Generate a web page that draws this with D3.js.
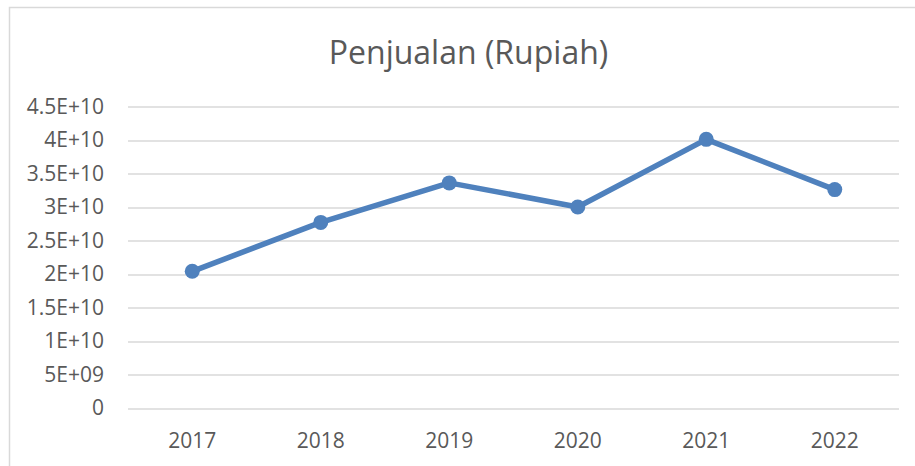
<!DOCTYPE html>
<html>
<head>
<meta charset="utf-8">
<script src="https://cdn.jsdelivr.net/npm/d3@7"></script>
<style>
  body { margin: 0; background: #fff; }
  text { font-family: 'Open Sans', sans-serif; fill: #595959; }
</style>
</head>
<body>
<svg width="915" height="466"></svg>
<script>
const years = ['2017', '2018', '2019', '2020', '2021', '2022'];
const sales = [2.04e10, 2.77e10, 3.36e10, 3.0e10, 4.01e10, 3.26e10];
const yTicks = [0, 5e9, 1e10, 1.5e10, 2e10, 2.5e10, 3e10, 3.5e10, 4e10, 4.5e10];
const yTickLabels = ['0', '5E+09', '1E+10', '1.5E+10', '2E+10', '2.5E+10', '3E+10', '3.5E+10', '4E+10', '4.5E+10'];

const svg = d3.select('svg');
const MARGIN = { TOP: 106.5, RIGHT: 16, BOTTOM: 58, LEFT: 128 };
const WIDTH = +svg.attr('width') - MARGIN.LEFT - MARGIN.RIGHT;
const HEIGHT = +svg.attr('height') - MARGIN.TOP - MARGIN.BOTTOM;

// chart frame (only top and left visible)
svg.append('rect')
  .attr('x', 9.5).attr('y', 7.5)
  .attr('width', 930).attr('height', 480)
  .attr('fill', 'none')
  .attr('stroke', '#d9d9d9')
  .attr('stroke-width', 1.5);

svg.append('text')
  .attr('x', 468.5)
  .attr('y', 64)
  .attr('text-anchor', 'middle')
  .style('font-size', '32px')
  .text('Penjualan (Rupiah)');

const g = svg.append('g')
  .attr('transform', `translate(${MARGIN.LEFT}, ${MARGIN.TOP})`);

// scales
const x = d3.scaleBand().domain(years).range([0, WIDTH]);
const y = d3.scaleLinear().domain([0, 4.5e10]).range([HEIGHT, 0]);

// gridlines
g.append('g')
  .selectAll('line')
  .data(yTicks)
  .join('line')
  .attr('x1', 0)
  .attr('x2', WIDTH)
  .attr('y1', d => Math.round(y(d)) + 0.5)
  .attr('y2', d => Math.round(y(d)) + 0.5)
  .attr('stroke', '#d9d9d9')
  .attr('stroke-width', 1.5);

// y axis labels
const yAxis = g.append('g')
  .call(d3.axisLeft(y).tickValues(yTicks).tickSize(0).tickPadding(24)
    .tickFormat((d, i) => yTickLabels[i]));
yAxis.select('.domain').remove();
yAxis.selectAll('text').style('font-size', '21px').attr('fill', '#595959');

// x axis labels
const xAxis = g.append('g')
  .attr('transform', `translate(0, ${HEIGHT})`)
  .call(d3.axisBottom(x).tickSize(0).tickPadding(25));
xAxis.select('.domain').remove();
xAxis.selectAll('text').style('font-size', '21px').attr('fill', '#595959');

// line
const line = d3.line()
  .x((d, i) => x(years[i]) + x.bandwidth() / 2)
  .y(d => y(d));

g.append('path')
  .attr('d', line(sales))
  .attr('fill', 'none')
  .attr('stroke', '#4f81bd')
  .attr('stroke-width', 5.5)
  .attr('stroke-linejoin', 'round');

g.selectAll('circle')
  .data(sales)
  .join('circle')
  .attr('cx', (d, i) => x(years[i]) + x.bandwidth() / 2)
  .attr('cy', d => y(d))
  .attr('r', 7.5)
  .attr('fill', '#4f81bd');
</script>
</body>
</html>
